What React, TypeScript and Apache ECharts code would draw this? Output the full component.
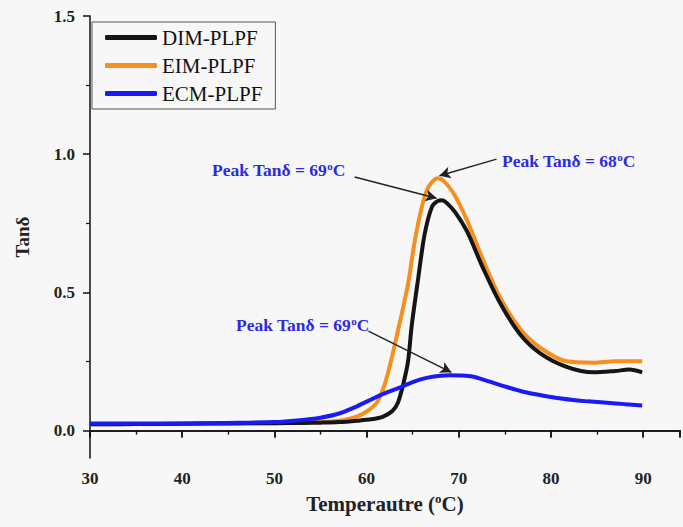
import React, { useEffect, useRef } from "react";
import * as echarts from "echarts";

const seriesNames = ["DIM-PLPF", "EIM-PLPF", "ECM-PLPF"];

const dimX = [30, 35, 40, 45, 50, 53, 55, 57, 59, 60.5, 61.8, 62.8, 63.4, 64.0, 64.5, 64.9, 65.6, 66.3, 67.1, 67.7, 68.2, 68.8, 69.6, 70.9, 72.6, 74.5, 76.6, 78.8, 81.7, 84.6, 87, 88.5, 89.9];
const dimY = [0.022, 0.023, 0.024, 0.025, 0.026, 0.027, 0.028, 0.030, 0.035, 0.040, 0.050, 0.07, 0.10, 0.17, 0.25, 0.38, 0.55, 0.71, 0.81, 0.83, 0.833, 0.82, 0.79, 0.72, 0.59, 0.46, 0.35, 0.28, 0.23, 0.21, 0.215, 0.22, 0.21];

const eimX = [30, 35, 40, 45, 50, 53, 55, 57, 58.5, 59.5, 60.3, 61.1, 61.8, 62.5, 63.6, 64.5, 65.2, 66.0, 66.7, 67.7, 68.3, 69.4, 70.9, 72.6, 74.5, 76.6, 78.8, 81.7, 84.6, 87, 89.9];
const eimY = [0.022, 0.023, 0.024, 0.025, 0.026, 0.028, 0.030, 0.035, 0.045, 0.058, 0.075, 0.10, 0.15, 0.23, 0.39, 0.53, 0.68, 0.81, 0.88, 0.913, 0.905, 0.86, 0.76, 0.62, 0.48, 0.37, 0.30, 0.25, 0.245, 0.25, 0.25];

const ecmX = [30, 35, 40, 45, 50, 52.5, 55, 57.1, 59, 60.7, 62, 63.6, 65, 66.5, 68, 69, 70, 71.5, 73, 75.2, 77, 78.8, 80.5, 82.4, 84, 86.1, 88, 89.9];
const ecmY = [0.025, 0.025, 0.025, 0.027, 0.030, 0.036, 0.046, 0.062, 0.088, 0.115, 0.135, 0.155, 0.175, 0.19, 0.198, 0.20, 0.199, 0.195, 0.18, 0.157, 0.14, 0.128, 0.118, 0.11, 0.105, 0.10, 0.095, 0.09];

const yLabelValues = [0, 0.5, 1.0, 1.5];
const yMinorValues = [0.25, 0.75, 1.25];

// arrows: [startX, startY, endX, endY]
const arrowDim = [58.7, 0.917, 67.6, 0.84];
const arrowEim = [74.1, 0.982, 67.9, 0.922];
const arrowEcm = [60.2, 0.359, 69.2, 0.21];

const peakLabels = ["69", "68", "69"];

const zip = (xs: number[], ys: number[]) => xs.map((x, i) => [x, ys[i]]);

const FONT = "Liberation Serif";
const BLUE_TXT = "#2b2be0";

function peakText(t: string) {
  return `{a|Peak Tanδ = ${t}}{s|o}{a|C}`;
}

const rich = {
  a: { fontFamily: FONT, fontWeight: "bold", fontSize: 17.5, fill: BLUE_TXT, color: BLUE_TXT },
  s: { fontFamily: FONT, fontWeight: "bold", fontSize: 11, fill: BLUE_TXT, color: BLUE_TXT, padding: [0, 0, 9, 0] },
};

export default function App() {
  const ref = useRef<HTMLDivElement>(null);
  useEffect(() => {
    if (!ref.current) return;
    const chart = echarts.init(ref.current, null, { renderer: "svg" });
    const arrowLine = (a: number[]) => [
      { coord: [a[0], a[1]], symbol: "none" },
      { coord: [a[2], a[3]], symbol: "arrow" },
    ];
    const markLine = (a: number[]) => ({
      silent: true,
      symbolSize: [9, 11],
      label: { show: false },
      lineStyle: { color: "#222", width: 1.5, type: "solid" },
      data: [arrowLine(a)],
    });
    chart.setOption({
      animation: false,
      backgroundColor: "#f7f7f7",
      grid: { left: 90, right: 3, top: 16, bottom: 69, containLabel: false },
      legend: {
        data: seriesNames,
        orient: "vertical",
        left: 92,
        top: 22,
        padding: [5, 13, 5, 13],
        borderColor: "#555",
        borderWidth: 1,
        itemWidth: 52,
        itemHeight: 5,
        itemGap: 7,
        icon: "roundRect",
        textStyle: { fontFamily: FONT, fontSize: 21, color: "#111" },
      },
      xAxis: [
        {
          type: "value",
          min: 30,
          max: 94,
          interval: 10,
          position: "bottom",
          name: "Temperautre ({s|o}C)",
          nameLocation: "middle",
          nameGap: 30,
          nameTextStyle: {
            fontFamily: FONT,
            fontWeight: "bold",
            fontSize: 21,
            color: "#222",
            rich: { s: { fontFamily: FONT, fontWeight: "bold", fontSize: 13, color: "#222", padding: [0, 0, 11, 0] } },
          },
          axisLine: { lineStyle: { color: "#111", width: 1.5 } },
          axisTick: { show: true, length: 7, lineStyle: { color: "#111", width: 1.5 } },
          minorTick: { show: true, splitNumber: 2, length: 4, lineStyle: { color: "#111", width: 1.2 } },
          axisLabel: { fontFamily: FONT, fontWeight: "bold", fontSize: 17, color: "#222", margin: 12, showMaxLabel: false },
          splitLine: { show: false },
        },
        {
          type: "value",
          min: 30,
          max: 94,
          interval: 10,
          position: "top",
          axisLine: { lineStyle: { color: "#111", width: 1.5 } },
          axisTick: { show: true, inside: true, length: 7, lineStyle: { color: "#111", width: 1.5 } },
          minorTick: { show: true, splitNumber: 2, length: 4, lineStyle: { color: "#111", width: 1.2 } },
          axisLabel: { show: false },
          splitLine: { show: false },
        },
      ],
      yAxis: [
        {
          type: "value",
          min: -0.1,
          max: 1.5,
          position: "left",
          name: "Tanδ",
          nameLocation: "middle",
          nameGap: 58,
          nameRotate: 90,
          nameTextStyle: { fontFamily: FONT, fontWeight: "bold", fontSize: 19, color: "#222" },
          axisLine: { show: true, lineStyle: { color: "#111", width: 1.5 } },
          axisTick: { show: true, length: 7, customValues: yLabelValues, lineStyle: { color: "#111", width: 1.5 } },
          axisLabel: {
            customValues: yLabelValues,
            formatter: (v: number) => v.toFixed(1),
            fontFamily: FONT,
            fontWeight: "bold",
            fontSize: 17,
            color: "#222",
            margin: 15,
          },
          splitLine: { show: false },
        },
        {
          type: "value",
          min: -0.1,
          max: 1.5,
          position: "left",
          axisLine: { show: false },
          axisTick: { show: true, length: 4, customValues: yMinorValues, lineStyle: { color: "#111", width: 1.2 } },
          axisLabel: { show: false },
          splitLine: { show: false },
        },
      ],
      series: [
        {
          name: "EIM-PLPF",
          type: "line",
          data: zip(eimX, eimY),
          smooth: 0.3,
          showSymbol: false,
          lineStyle: { color: "#f5901e", width: 4 },
          itemStyle: { color: "#f5901e" },
          z: 2,
          markLine: markLine(arrowEim),
        },
        {
          name: "DIM-PLPF",
          type: "line",
          data: zip(dimX, dimY),
          smooth: 0.3,
          showSymbol: false,
          lineStyle: { color: "#151515", width: 4 },
          itemStyle: { color: "#151515" },
          z: 3,
          markLine: markLine(arrowDim),
        },
        {
          name: "ECM-PLPF",
          type: "line",
          data: zip(ecmX, ecmY),
          smooth: 0.3,
          showSymbol: false,
          lineStyle: { color: "#1a1af5", width: 4 },
          itemStyle: { color: "#1a1af5" },
          z: 4,
          markLine: markLine(arrowEcm),
        },
      ],
      graphic: [
        { type: "text", left: 212, top: 160, style: { text: peakText(peakLabels[0]), rich } },
        { type: "text", left: 502, top: 151, style: { text: peakText(peakLabels[1]), rich } },
        { type: "text", left: 236, top: 315, style: { text: peakText(peakLabels[2]), rich } },
      ],
    });
    return () => chart.dispose();
  }, []);
  return <div ref={ref} style={{ position: "fixed", left: 0, top: 0, width: 683, height: 527 }} />;
}
